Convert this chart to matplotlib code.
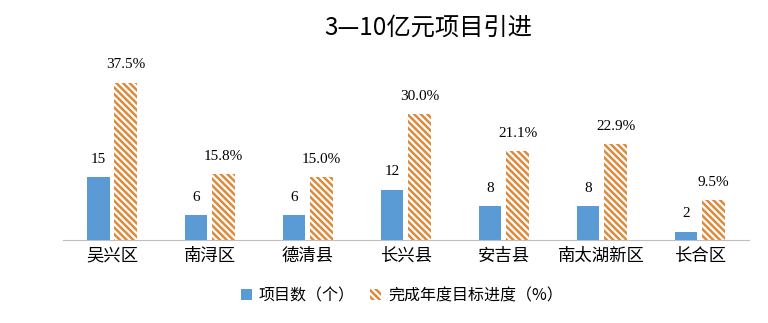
import matplotlib.pyplot as plt
import numpy as np

plt.rcParams['font.family'] = ['Noto Sans CJK SC', 'DejaVu Sans']
plt.rcParams['hatch.linewidth'] = 1.8

# 各区县数据
districts = ['吴兴区', '南浔区', '德清县', '长兴县', '安吉县', '南太湖新区', '长合区']
projects = [15, 6, 6, 12, 8, 8, 2]
progress = [37.5, 15.8, 15.0, 30.0, 21.1, 22.9, 9.5]

blue = '#5B9BD5'
orange = '#DE8A3C'

fig = plt.figure(figsize=(7.68, 3.23), dpi=100)
ax = fig.add_axes([0.082, 0.257, 0.893, 0.52])

x = np.arange(len(districts))
w = 0.23
b1 = ax.bar(x - w / 2 - 0.025, projects, w, color=blue, label='项目数（个）')
b2 = ax.bar(x + w / 2 + 0.025, progress, w, color='white', edgecolor=orange,
            hatch='\\\\\\\\\\', linewidth=0, label='完成年度目标进度（%）')

for rect, v in zip(b1, projects):
    ax.annotate(str(v), (rect.get_x() + rect.get_width() / 2, rect.get_height()),
                xytext=(0, 8), textcoords='offset points', ha='center', va='bottom',
                fontsize=11, family='Liberation Serif')
for rect, v in zip(b2, progress):
    ax.annotate(f'{v:.1f}%', (rect.get_x() + rect.get_width() / 2, rect.get_height()),
                xytext=(0, 8), textcoords='offset points', ha='center', va='bottom',
                fontsize=11, family='Liberation Serif')

ax.set_xlim(-0.5, len(districts) - 0.5)
ax.set_ylim(0, 40)
ax.set_xticks(x)
ax.set_xticklabels(districts, fontsize=12.5, fontweight='medium')
ax.tick_params(axis='x', length=0, pad=5)
ax.set_yticks([])
for s in ['top', 'right', 'left']:
    ax.spines[s].set_visible(False)
ax.spines['bottom'].set_color('#BFBFBF')

fig.text(0.557, 0.915, '3—10亿元项目引进', ha='center', va='center', fontsize=17.5)
fig.legend(handles=[b1, b2], loc='center', bbox_to_anchor=(0.523, 0.085), ncol=2,
           frameon=False, fontsize=11.5, handlelength=0.7, handleheight=0.7,
           handletextpad=0.4, columnspacing=1.0)

fig.savefig('out.png', dpi=100)
